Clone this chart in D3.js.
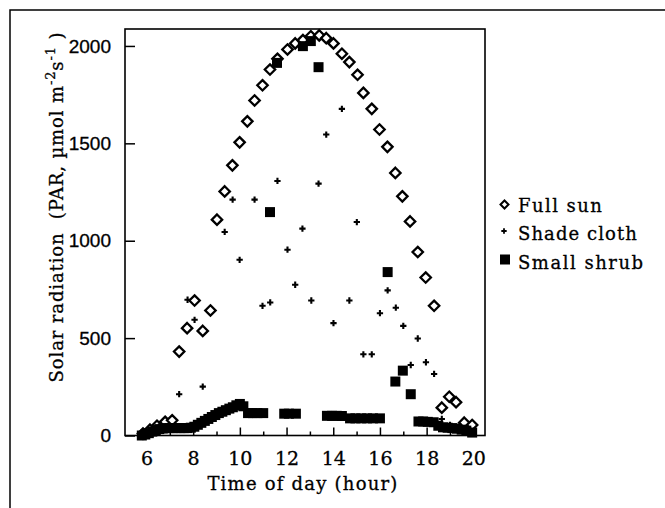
<!DOCTYPE html>
<html><head><meta charset="utf-8">
<script src="https://cdn.jsdelivr.net/npm/d3@7"></script>
<style>body{margin:0;background:#fff}svg{display:block}text{stroke:#000;stroke-width:0.3px}</style>
</head><body>
<svg id="c" width="665" height="508"></svg>
<script>
// ---- data ----
const fullSunTime = [5.85,6.15,6.45,6.8,7.1,7.4,7.74,8.06,8.41,8.74,9.02,9.35,9.68,9.99,10.32,10.63,10.97,11.29,11.61,12.04,12.37,12.70,13.04,13.4,13.7,14.01,14.37,14.69,15.04,15.29,15.65,15.98,16.32,16.66,16.96,17.29,17.62,17.96,18.32,18.65,18.97,19.26,19.61,19.95];
const fullSunPAR  = [10,30,50,70,78,431,551,693,537,642,1108,1253,1387,1505,1613,1720,1798,1879,1934,1982,2013,2030,2050,2054,2040,2013,1960,1917,1852,1759,1677,1571,1482,1348,1228,1099,942,811,666,143,199,171,66,54];

const shadeTime = [6.4,6.75,7.05,7.40,7.76,8.06,8.41,9.35,9.69,9.99,10.63,10.97,11.30,11.61,12.04,12.37,12.68,13.06,13.37,13.70,14.01,14.37,14.69,15.01,15.29,15.65,16.0,16.33,16.68,17.0,17.32,17.62,17.97,18.32,18.65,19.0,19.3];
const shadePAR  = [20,35,45,212,697,594,251,1045,1211,902,1211,666,683,1307,954,774,1062,693,1293,1545,577,1677,693,1096,417,417,628,745,656,563,362,498,376,316,85,55,35];

const shrubTime = [5.8,5.95,6.1,6.25,6.4,6.55,6.7,6.85,7.0,7.15,7.3,7.45,7.6,7.75,7.9,8.05,8.2,8.35,8.5,8.65,8.8,8.95,9.1,9.25,9.4,9.55,9.7,9.85,10.0,10.15,10.35,10.55,10.75,11.0,11.29,11.59,11.9,12.1,12.4,12.70,13.04,13.37,13.73,13.95,14.15,14.37,14.72,14.95,15.2,15.45,15.7,16.0,16.33,16.66,16.98,17.32,17.65,17.85,18.05,18.3,18.5,18.7,18.9,19.1,19.3,19.5,19.7,19.95];
const shrubPAR  = [0,5,12,20,28,33,36,38,38,38,38,38,38,38,40,45,55,65,75,85,95,105,115,122,130,138,145,155,162,150,115,115,115,115,1147,1913,112,112,112,1999,2025,1891,101,101,101,100,88,88,88,88,88,88,839,277,333,212,72,72,70,68,50,42,40,38,35,30,25,15];

const xTickLabels = [6,8,10,12,14,16,18,20];
const xMinorTicks = [7,9,11,13,15,17,19];
const yTickLabels = [0,500,1000,1500,2000];
const legendLabels = ["Full sun","Shade cloth","Small shrub"];
const xTitle = "Time of day (hour)";

// ---- layout ----
const svg = d3.select("#c");
const L = 125, R = 485, T = 29, B = 435.5;
const x = d3.scaleLinear().domain([5.08, 20.5]).range([L, R]);
const y = d3.scaleLinear().domain([0, 2087]).range([B, T]);
const serif = "'DejaVu Serif', serif";

function fit(sel, target){
  const n = sel.text().length;
  const w = sel.node().getComputedTextLength();
  sel.attr("letter-spacing", ((target - w) / Math.max(1, n - 1)).toFixed(2));
}

// outer figure border
svg.append("path").attr("d","M10,508V10H665").attr("fill","none").attr("stroke","#000").attr("stroke-width",1.5);

// y axis (inward ticks)
const gy = svg.append("g").attr("transform",`translate(${L},0)`)
  .call(d3.axisLeft(y).tickValues(yTickLabels).tickSize(-10).tickPadding(14).tickFormat(d3.format("d")));
gy.select(".domain").remove();
gy.selectAll("line").attr("stroke","#000").attr("stroke-width",1.5);
gy.selectAll("text").attr("font-family","'Liberation Sans', Arial, sans-serif").attr("font-size",19).attr("fill","#000");

// x axis major/minor (inward ticks)
const gx = svg.append("g").attr("transform",`translate(0,${B})`)
  .call(d3.axisBottom(x).tickValues(xTickLabels).tickSize(-8).tickPadding(16).tickFormat(d3.format("d")));
gx.select(".domain").remove();
gx.selectAll("line").attr("stroke","#000").attr("stroke-width",1.5);
gx.selectAll("text").attr("font-family",serif).attr("font-size",19).attr("fill","#000");
const gx2 = svg.append("g").attr("transform",`translate(0,${B})`)
  .call(d3.axisBottom(x).tickValues(xMinorTicks).tickSize(-4).tickFormat(""));
gx2.select(".domain").remove();
gx2.selectAll("line").attr("stroke","#000").attr("stroke-width",1.5);

// frame
svg.append("rect").attr("x",L).attr("y",T).attr("width",R-L).attr("height",B-T)
  .attr("fill","none").attr("stroke","#000").attr("stroke-width",1.6);

// axis titles
const xt = svg.append("text").attr("x",(L+R)/2 - 2).attr("y",490).attr("text-anchor","middle")
  .attr("font-family",serif).attr("font-size",18).text(xTitle);
fit(xt, 190);

const yl = svg.append("text").attr("transform","translate(63,207) rotate(-90)")
  .attr("text-anchor","middle").attr("font-family",serif).attr("font-size",18);
yl.append("tspan").text("Solar radiation\u00a0\u00a0(PAR, \u00b5mol m");
yl.append("tspan").attr("font-size",13).attr("dy",-8).text("-2");
yl.append("tspan").attr("dy",8).text("s");
yl.append("tspan").attr("font-size",13).attr("dy",-8).text("-1");
yl.append("tspan").attr("dy",8).text("\u00a0)");
{
  const w = yl.node().getComputedTextLength();
  const n = yl.text().length;
  yl.attr("letter-spacing", ((350 - w)/(n-1)).toFixed(2));
}

// marks
const diamond = "M0,-5.2L5.2,0L0,5.2L-5.2,0Z";
svg.append("g").selectAll("path").data(d3.range(fullSunTime.length)).join("path")
  .attr("transform", i => `translate(${x(fullSunTime[i])},${y(fullSunPAR[i])})`)
  .attr("d", diamond).attr("fill","#fff").attr("stroke","#000").attr("stroke-width",2.3);

svg.append("g").selectAll("path").data(d3.range(shrubTime.length)).join("path")
  .attr("transform", i => `translate(${x(shrubTime[i])},${y(shrubPAR[i])})`)
  .attr("d", d3.symbol(d3.symbolSquare, 100)()).attr("fill","#000");

svg.append("g").selectAll("path").data(d3.range(shadeTime.length)).join("path")
  .attr("transform", i => `translate(${x(shadeTime[i])},${y(shadePAR[i])})`)
  .attr("d", d3.symbol(d3.symbolCross, 22)()).attr("fill","#000");

// legend
const lg = svg.append("g");
const ly = [211.5, 240, 268.5];
const lw = [84, 119, 125];
lg.append("path").attr("transform",`translate(504.5,${ly[0]-7})`).attr("d","M0,-4L4,0L0,4L-4,0Z")
  .attr("fill","#fff").attr("stroke","#000").attr("stroke-width",2);
lg.append("path").attr("transform",`translate(504,${ly[1]-9})`).attr("d", d3.symbol(d3.symbolCross, 16)()).attr("fill","#000");
lg.append("rect").attr("x",500).attr("y",ly[2]-14).attr("width",10).attr("height",10).attr("fill","#000");
legendLabels.forEach((t,i)=>{
  const tx = lg.append("text").attr("x",518).attr("y",ly[i]).attr("font-family",serif).attr("font-size",18).text(t);
  fit(tx, lw[i]);
});
</script>
</body></html>
